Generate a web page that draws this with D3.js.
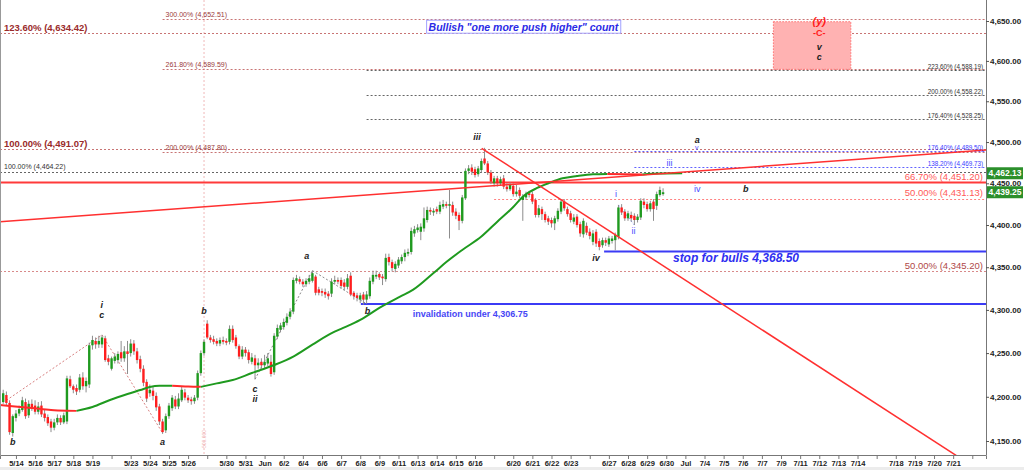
<!DOCTYPE html>
<html><head><meta charset="utf-8">
<script src="https://cdn.jsdelivr.net/npm/d3@7"></script>
<style>
html,body{margin:0;padding:0;background:#fff;}
svg{display:block;font-family:"Liberation Sans",Arial,sans-serif;}
</style></head><body>
<svg id="chart" width="1024" height="470"></svg>
<script>
// ---------------- DATA ----------------
const dateLabels = ["5/14","5/16","5/17","5/18","5/19","","5/23","5/24","5/25","5/26","","5/30","5/31","Jun","6/2","6/4","6/6","6/7","6/8","6/9","6/11","6/13","6/14","6/15","6/16","","6/20","6/21","6/22","6/23","","6/27","6/28","6/29","6/30","Jul","7/4","7/5","7/6","7/7","7/9","7/11","7/12","7/13","7/14","","7/18","7/19","7/20","7/21",""];
const barsPerDay = 6;
const priceTicks = [4150,4200,4250,4300,4350,4400,4450,4500,4550,4600,4650];

const open = [4194,4202,4193,4159,4176,4181,4185,4194,4179,4192,
4190,4183,4190,4181,4177,4172,4165,4171,4176,4171,
4172,4220,4212,4210,4208,4222,4212,4214,4259,4264,
4260,4260,4267,4244,4232,4241,4242,4251,4244,4252,
4250,4261,4252,4243,4232,4217,4204,4207,4201,4189,
4172,4162,4178,4187,4197,4189,4196,4205,4199,4197,
4195,4199,4227,4250,4284,4268,4266,4264,4261,4265,
4264,4263,4278,4268,4258,4246,4254,4251,4240,4244,
4236,4240,4236,4238,4240,4228,4269,4277,4280,4285,
4292,4298,4334,4336,4333,4330,4333,4334,4339,4324,
4322,4321,4319,4319,4333,4335,4335,4332,4327,4340,
4320,4317,4312,4318,4312,4316,4333,4339,4342,4339,
4336,4362,4356,4348,4352,4357,4362,4366,4368,4390,
4394,4392,4396,4406,4418,4415,4419,4416,4422,4425,
4423,4424,4416,4412,4405,4432,4465,4469,4467,4461,
4466,4480,4474,4463,4450,4456,4450,4456,4446,4443,
4447,4437,4442,4430,4433,4438,4437,4430,4412,4419,
4413,4408,4406,4402,4407,4416,4428,4419,4414,4404,
4410,4401,4389,4399,4392,4380,4392,4381,4376,4382,
4377,4381,4382,4386,4421,4416,4408,4412,4411,4406,
4409,4428,4425,4419,4428,4423,4436,4437];
const high = [4208,4206,4196,4180,4185,4190,4200,4198,4196,4197,
4196,4194,4195,4185,4180,4175,4175,4180,4179,4182,
4224,4224,4214,4214,4226,4228,4222,4262,4270,4268,
4270,4271,4270,4248,4246,4250,4252,4264,4258,4264,
4266,4265,4256,4247,4236,4220,4214,4211,4205,4192,
4175,4181,4193,4202,4201,4204,4212,4209,4202,4200,
4202,4230,4253,4266,4288,4271,4270,4267,4268,4269,
4267,4282,4282,4271,4260,4258,4257,4254,4250,4248,
4244,4244,4248,4250,4248,4273,4283,4285,4290,4296,
4302,4338,4341,4339,4336,4337,4341,4346,4341,4327,
4325,4325,4322,4337,4340,4338,4338,4336,4342,4344,
4322,4320,4320,4321,4322,4338,4346,4346,4344,4342,
4366,4366,4359,4357,4362,4365,4371,4372,4397,4399,
4401,4402,4421,4422,4421,4420,4422,4428,4430,4428,
4442,4428,4420,4415,4436,4468,4472,4473,4470,4471,
4480,4493,4477,4466,4459,4459,4458,4460,4450,4451,
4450,4448,4445,4437,4440,4441,4440,4432,4424,4422,
4416,4411,4409,4411,4420,4431,4431,4422,4417,4413,
4413,4404,4408,4403,4396,4394,4395,4384,4385,4385,
4387,4387,4391,4424,4425,4419,4417,4416,4414,4413,
4432,4432,4428,4429,4431,4440,4446,4444];
const low = [4192,4190,4157,4155,4172,4178,4183,4175,4176,4184,
4180,4180,4177,4172,4167,4160,4162,4168,4168,4169,
4169,4210,4204,4202,4205,4208,4205,4210,4254,4255,
4256,4256,4240,4236,4230,4238,4238,4240,4240,4226,
4246,4248,4238,4228,4212,4194,4200,4196,4184,4168,
4158,4159,4175,4184,4186,4186,4194,4196,4193,4191,
4192,4196,4224,4247,4266,4262,4260,4258,4258,4260,
4259,4260,4262,4255,4243,4243,4246,4238,4237,4220,
4232,4232,4233,4235,4223,4225,4266,4274,4277,4282,
4289,4295,4331,4330,4327,4327,4330,4332,4317,4317,
4316,4314,4312,4315,4330,4330,4325,4323,4324,4316,
4312,4310,4308,4306,4307,4313,4330,4336,4335,4329,
4333,4352,4345,4344,4349,4354,4357,4363,4365,4386,
4391,4382,4392,4403,4412,4411,4413,4413,4419,4420,
4384,4411,4407,4394,4402,4430,4461,4460,4457,4458,
4463,4472,4460,4449,4446,4446,4447,4443,4440,4441,
4434,4434,4432,4405,4430,4433,4425,4409,4409,4406,
4403,4400,4397,4394,4404,4413,4417,4410,4403,4401,
4397,4386,4385,4388,4383,4376,4374,4370,4373,4375,
4374,4378,4370,4383,4412,4405,4405,4404,4400,4403,
4406,4420,4416,4416,4405,4418,4434,4435];
const close = [4204,4193,4160,4178,4181,4186,4196,4178,4192,4188,
4183,4189,4180,4176,4170,4165,4171,4176,4171,4179,
4221,4212,4208,4206,4222,4212,4218,4259,4265,4260,
4264,4268,4242,4240,4244,4246,4249,4244,4252,4249,
4261,4252,4242,4232,4216,4198,4208,4201,4188,4172,
4160,4178,4190,4199,4189,4198,4208,4199,4196,4195,
4199,4227,4250,4263,4268,4265,4263,4261,4265,4263,
4262,4278,4265,4258,4246,4254,4250,4242,4245,4236,
4239,4236,4240,4244,4226,4270,4279,4282,4286,4292,
4298,4335,4337,4333,4330,4334,4337,4343,4320,4320,
4320,4318,4316,4333,4335,4333,4328,4327,4337,4318,
4316,4314,4317,4312,4318,4334,4341,4341,4338,4337,
4361,4356,4349,4354,4359,4362,4367,4368,4393,4395,
4397,4398,4408,4418,4416,4417,4416,4424,4425,4423,
4425,4415,4411,4405,4433,4465,4468,4464,4460,4468,
4477,4474,4463,4452,4456,4450,4455,4446,4443,4448,
4437,4440,4435,4434,4437,4436,4428,4412,4420,4413,
4406,4404,4402,4408,4417,4428,4420,4413,4406,4409,
4400,4390,4405,4391,4387,4390,4378,4374,4382,4379,
4384,4384,4388,4421,4415,4408,4414,4408,4406,4410,
4429,4424,4419,4426,4419,4437,4442,4439.25];

// moving average (bar index, value)
const maBars = [-1,2,9,15,20,23,28,33.5,39,43,46,49,53,58,62,67,72,78,85,91,97,103.5,106,112,118,124.5,128.5,135,139,144,150,155,160,163,167.5,171.5,175.5,180,185,189.5,195,200.5,206,213];
const maValues = [4190.7,4189.6,4187.3,4185.0,4184.2,4184.0,4188.4,4196.4,4203.2,4207.7,4211.1,4212.5,4212.6,4211.7,4211.3,4215.3,4219.1,4227.1,4236.3,4246.0,4259.8,4273.9,4278.0,4288.3,4302.4,4315.5,4323.3,4343.2,4356.1,4370.4,4386.3,4404.0,4421.5,4433.9,4444.4,4450.8,4456.1,4458.8,4460.9,4461.3,4460.9,4460.6,4461.8,4462.13];

// fibonacci levels
const fibPrices = [4652.51,4634.42,4589.59,4588.19,4558.22,4528.25,4491.07,4489.50,4487.80,4469.73,4464.22,4451.20,4431.13,4345.20];
const fibLabels = ["300.00% (4,652.51)","123.60% (4,634.42)","261.80% (4,589.59)","223.60% (4,588.19)","200.00% (4,558.22)","176.40% (4,528.25)","100.00% (4,491.07)","176.40% (4,489.50)","200.00% (4,487.80)","138.20% (4,469.73)","100.00% (4,464.22)","66.70% (4,451.20)","50.00% (4,431.13)","50.00% (4,345.20)"];
const fibStartBar = [50,-1,50,114,114,114,-1,198,50,198,-1,-1,154,-1];
const fibKind = ["mid","leftBig","mid","rightGray","rightGray","rightGray","leftBig","rightBlue","mid","rightBlue","leftSmall","rightRedSolid","rightRed","rightBrown"];

// stop / invalidation levels
const levelPrices = [4368.50, 4306.75];
const levelStartBar = [188.5, 112.2];
const levelLabels = ["stop for bulls 4,368.50", "invalidation under 4,306.75"];
const levelLabelBar = [210.1, 128.5];
const levelLabelPrice = [4361.7, 4295.3];

// trendlines (two anchors each: bar, price)
const trendBars = [[150.1, 212.3], [-1, 308.3]];
const trendPrices = [[4492.4, 4338.9], [4404.0, 4490.3]];

// wave connector lines
const waveLineBars = [[1,31],[31,50],[79,97],[97,114],[193,198]];
const waveLinePrices = [[4196,4271],[4271,4159],[4220,4346],[4346,4307],[4424,4400]];
const waveLineKind = ["pink","pink","gray","gray","blue"];

// wave labels
const waveText = ["b","i","c","a","b","c","ii","a","b","iii","iv","i","ii","iii","iv","b","a","v","(y)","-C-","v","c"];
const waveBar = [3,30.9,30.9,50,63,79,79,95.2,114.3,148.6,186,192.2,197.7,209,217.7,232.9,217.7,217.6,256,256,256,256];
const wavePrice = [4148.9,4305.8,4294.1,4149.3,4299.1,4208.8,4197.5,4363.2,4299.1,4505.8,4360.5,4437.2,4392.9,4474.7,4442.8,4442.8,4503.0,4492.8,4650.4,4635.5,4617.7,4604.5];
const waveKind = ["k","k","k","k","k","k","k","k","k","k","k","blue","blue","blue","blue","k","k","blueSmall","redBig","red","k","k"];

// target zone box
const zoneBars = [241.6, 265.9];
const zonePrices = [4649.1, 4589.5];

// title
const titleText = "Bullish \"one more push higher\" count";
const titleBar = 163.2, titlePrice = 4642.4;

// last values tags
const tagValues = [4462.13, 4439.25];
// time marker
const markerBar = 63;

// ---------------- CHART ----------------
const svg = d3.select("#chart");
const plotW = 986, plotH = 455;
const x = d3.scaleLinear().domain([-1, 308.3]).range([0, plotW]);
const y = d3.scaleLog().domain([4150, 4650]).range([441, 21]);

svg.append("rect").attr("x",0).attr("y",0).attr("width",1024).attr("height",470).attr("fill","#fff");
svg.append("rect").attr("x",0).attr("y",467).attr("width",1024).attr("height",3).attr("fill","#ececec");

svg.append("defs").append("clipPath").attr("id","clip")
  .append("rect").attr("x",0).attr("y",0).attr("width",plotW).attr("height",plotH);
const g = svg.append("g").attr("clip-path","url(#clip)");

// time marker
g.append("line").attr("x1",x(markerBar)).attr("x2",x(markerBar)).attr("y1",0).attr("y2",plotH)
  .attr("stroke","#f0b8b8").attr("stroke-dasharray","2,2").attr("stroke-width",1);
g.append("text").attr("transform",`translate(${x(markerBar)+2},448) rotate(-90)`)
  .attr("font-size",5).attr("fill","#f0b0b0").text("500.000");

// fib levels
const fibStyle = {
  leftBig:{color:"#9a2b2b",size:9.5,weight:"bold",pos:"left",line:"#c87474",dash:"2,2",w:1,off:2.5},
  leftSmall:{color:"#333",size:7,weight:"normal",pos:"left",line:"#666",dash:"2,2",w:1,off:2.5},
  mid:{color:"#9a3a3a",size:7,weight:"normal",pos:"start",line:"#c87474",dash:"2,2",w:1,off:2.5},
  rightGray:{color:"#333",size:6.3,weight:"normal",pos:"right",line:"#666",dash:"2,2",w:1,off:1},
  rightBlue:{color:"#3b3bff",size:6.3,weight:"normal",pos:"right",line:"#6262ff",dash:"2,2",w:1,off:1},
  rightRedSolid:{color:"#ff5a5a",size:9.5,weight:"normal",pos:"right",line:"#ff3a3a",dash:null,w:2,off:2.5},
  rightRed:{color:"#ff5a5a",size:9.5,weight:"normal",pos:"right",line:"#ff8080",dash:"2,2",w:1,off:3},
  rightBrown:{color:"#b04848",size:9.5,weight:"normal",pos:"right",line:"#d88a8a",dash:"2,2",w:1,off:2.5}
};
fibPrices.forEach((p,i)=>{
  const s = fibStyle[fibKind[i]];
  const yy = Math.round(y(p))+0.5;
  const ln = g.append("line").attr("x1",x(fibStartBar[i])).attr("x2",plotW).attr("y1",yy).attr("y2",yy)
    .attr("stroke",s.line).attr("stroke-width",s.w);
  if(s.dash) ln.attr("stroke-dasharray",s.dash);
  let tx, anchor;
  if(s.pos==="left"){tx=4;anchor="start";}
  else if(s.pos==="start"){tx=x(fibStartBar[i])+3;anchor="start";}
  else {tx=plotW-3;anchor="end";}
  svg.append("text").attr("x",tx).attr("y",y(p)-s.off).attr("text-anchor",anchor)
    .attr("font-size",s.size).attr("font-weight",s.weight).attr("fill",s.color).text(fibLabels[i]);
});

// stop / invalidation
levelPrices.forEach((p,i)=>{
  g.append("line").attr("x1",x(levelStartBar[i])).attr("x2",plotW).attr("y1",y(p)).attr("y2",y(p))
    .attr("stroke","#3b3bf5").attr("stroke-width",2);
});
svg.append("text").attr("x",x(levelLabelBar[0])).attr("y",y(levelLabelPrice[0])).attr("dy","0.35em")
  .attr("font-size",12).attr("font-weight","bold").attr("font-style","italic").attr("fill","#2e2ef0").text(levelLabels[0]);
svg.append("text").attr("x",x(levelLabelBar[1])).attr("y",y(levelLabelPrice[1])).attr("dy","0.35em")
  .attr("font-size",9).attr("font-weight","bold").attr("fill","#4646f5").text(levelLabels[1]);

// wave connector lines
const wlColor = {pink:"#d88080",gray:"#8a8a8a",blue:"#8aa0ff"};
waveLineBars.forEach((b,i)=>{
  g.append("line").attr("x1",x(b[0])).attr("x2",x(b[1]))
    .attr("y1",y(waveLinePrices[i][0])).attr("y2",y(waveLinePrices[i][1]))
    .attr("stroke",wlColor[waveLineKind[i]]).attr("stroke-width",1).attr("stroke-dasharray","2,2");
});

// candles
const candles = open.map((o,i)=>({i,o,h:high[i],l:low[i],c:close[i]}));
const cg = g.append("g");
cg.selectAll("line.wick").data(candles).join("line").attr("class","wick")
  .attr("x1",d=>x(d.i)).attr("x2",d=>x(d.i)).attr("y1",d=>y(d.h)).attr("y2",d=>y(d.l))
  .attr("stroke","#8c8c8c").attr("stroke-width",1);
cg.selectAll("rect.body").data(candles).join("rect").attr("class","body")
  .attr("x",d=>x(d.i)-1.2).attr("width",2.4)
  .attr("y",d=>y(Math.max(d.o,d.c)))
  .attr("height",d=>Math.max(1,Math.abs(y(d.o)-y(d.c))))
  .attr("fill",d=>d.c>=d.o?"#1f9a1f":"#ff1e1e");

// moving average, coloured by direction
const maPts = maBars.map((b,i)=>({b,v:maValues[i]}));
const runs=[]; let cur=[maPts[0]]; let curUp = maPts[1].v>=maPts[0].v;
for(let i=1;i<maPts.length;i++){
  const up = maPts[i].v>=maPts[i-1].v;
  if(up!==curUp){runs.push({up:curUp,pts:cur});cur=[maPts[i-1]];curUp=up;}
  cur.push(maPts[i]);
}
runs.push({up:curUp,pts:cur});
const maLine = d3.line().x(d=>x(d.b)).y(d=>y(d.v)).curve(d3.curveMonotoneX);
runs.forEach(r=>{
  g.append("path").attr("d",maLine(r.pts)).attr("fill","none")
    .attr("stroke",r.up?"#1f9a1f":"#ff2a2a").attr("stroke-width",2);
});

// trendlines (extended across the plot)
trendBars.forEach((b,i)=>{
  const x1=x(b[0]),y1=y(trendPrices[i][0]),x2=x(b[1]),y2=y(trendPrices[i][1]);
  const k=(y2-y1)/(x2-x1);
  const xe = plotW;
  g.append("line").attr("x1",x1).attr("y1",y1).attr("x2",xe).attr("y2",y1+k*(xe-x1))
    .attr("stroke","#ff3030").attr("stroke-width",1.5);
});

// target zone
svg.append("rect").attr("x",x(zoneBars[0])).attr("y",y(zonePrices[0]))
  .attr("width",x(zoneBars[1])-x(zoneBars[0])).attr("height",y(zonePrices[1])-y(zonePrices[0]))
  .attr("fill","#ffb2b2").attr("stroke","#ff7070").attr("stroke-dasharray","1.5,1.5");

// wave labels
const wk = {
  k:{fill:"#222",size:9,weight:"bold",style:"italic"},
  blue:{fill:"#4a4aff",size:9,weight:"normal",style:"normal"},
  blueSmall:{fill:"#4a4aff",size:7,weight:"normal",style:"normal"},
  redBig:{fill:"#ff1a1a",size:11,weight:"bold",style:"italic"},
  red:{fill:"#ff1a1a",size:9,weight:"bold",style:"normal"}
};
waveText.forEach((t,i)=>{
  const s=wk[waveKind[i]];
  svg.append("text").attr("x",x(waveBar[i])).attr("y",y(wavePrice[i])).attr("dy","0.35em")
    .attr("text-anchor","middle").attr("font-size",s.size).attr("font-weight",s.weight)
    .attr("font-style",s.style).attr("fill",s.fill).text(t);
});

// title
const titleG = svg.append("g");
const tt = titleG.append("text").attr("x",x(titleBar)).attr("y",y(titlePrice)).attr("dy","0.35em")
  .attr("text-anchor","middle").attr("font-size",10.5).attr("font-weight","bold").attr("font-style","italic")
  .attr("fill","#2a2ae6").text(titleText);
const bb = tt.node().getBBox();
titleG.insert("rect",()=>tt.node()).attr("x",bb.x-2).attr("y",bb.y-0.5).attr("width",bb.width+4).attr("height",bb.height+1)
  .attr("fill","#fff").attr("stroke","#a0a0ff").attr("stroke-width",1);

// axes
const xAxis = d3.axisBottom(x)
  .tickValues(dateLabels.map((d,k)=>4+barsPerDay*k))
  .tickFormat((d,k)=>dateLabels[k]).tickSize(4).tickPadding(2);
const gx = svg.append("g").attr("transform",`translate(0,${plotH})`).call(xAxis);
gx.select(".domain").attr("stroke","#777");
gx.selectAll(".tick line").attr("stroke","#777");
gx.selectAll("text").attr("font-size",7.5).attr("font-weight","bold").attr("fill","#222")
  .attr("font-family","'Liberation Sans',Arial,sans-serif");

const yAxis = d3.axisRight(y).tickValues(priceTicks).tickFormat(d3.format(",.2f")).tickSize(3).tickPadding(1);
const gy = svg.append("g").attr("transform",`translate(${plotW},0)`).call(yAxis);
gy.select(".domain").attr("stroke","#777").attr("d",`M0.5,0V${plotH}`);
gy.selectAll(".tick line").attr("stroke","#555");
gy.selectAll("text").attr("font-size",8).attr("font-weight","bold").attr("fill","#222")
  .attr("font-family","'Liberation Sans',Arial,sans-serif");

// left frame
svg.append("line").attr("x1",0.5).attr("x2",0.5).attr("y1",0).attr("y2",plotH).attr("stroke","#999");

// value tags
tagValues.forEach(v=>{
  const yy=y(v);
  svg.append("rect").attr("x",plotW+1).attr("y",yy-6).attr("width",36).attr("height",12).attr("fill","#2b8f2b");
  svg.append("text").attr("x",plotW+19).attr("y",yy).attr("dy","0.35em").attr("text-anchor","middle")
    .attr("font-size",8.5).attr("font-weight","bold").attr("fill","#fff").text(d3.format(",.2f")(v));
});
</script>
</body></html>
